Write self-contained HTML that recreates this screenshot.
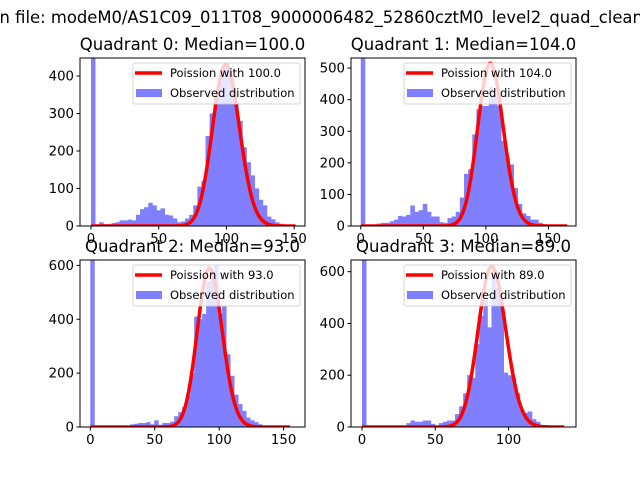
<!DOCTYPE html>
<html><head><meta charset="utf-8"><style>
html,body{margin:0;padding:0;background:#fff}
svg{display:block;font-family:"DejaVu Sans","Liberation Sans",sans-serif}
</style></head><body>
<svg id="fig" width="640" height="480" viewBox="0 0 640 480">
<text x="-5" y="23" font-size="16.4" fill="#000">in file: modeM0/AS1C09_011T08_9000006482_52860cztM0_level2_quad_clean.evt</text>
</svg>
<script>
// ---- data ----
const titles = ["Quadrant 0: Median=100.0","Quadrant 1: Median=104.0","Quadrant 2: Median=93.0","Quadrant 3: Median=89.0"];
const medians = [100, 104, 93, 89];
const histMax = [151, 165, 155, 138];
const poissonPeak = [430, 515, 590, 620];
const q0Counts = [900,2,10,5,5,8,10,15,15,17,15,30,45,50,62,55,42,47,30,28,20,10,12,20,30,55,105,120,240,300,350,380,420,425,390,330,280,210,170,135,100,70,55,25,18,10,6,3,1,1];
const q1Counts = [900,2,2,2,8,10,10,15,20,32,30,35,65,45,50,70,45,30,30,12,10,25,30,45,90,165,180,290,370,380,380,440,410,380,270,215,195,120,70,40,32,20,20,10,6,4,3,2,1,1];
const q2Counts = [900,1,1,2,2,2,3,3,3,5,10,12,15,15,18,10,25,8,15,15,20,40,55,75,120,200,410,400,420,540,550,600,420,450,270,190,120,85,60,35,25,18,10,5,2,1,1,1,1,1];
const q3Counts = [900,1,1,1,1,1,2,2,2,2,5,15,25,20,20,25,25,12,3,15,20,25,25,50,80,130,200,190,320,430,490,385,590,540,480,210,200,190,130,70,55,60,30,20,8,2,2,2,2,2];
const xTicks = [[0,50,100,150],[0,50,100,150],[0,50,100,150],[0,50,100]];
const yTicks = [[0,100,200,300,400],[0,100,200,300,400,500],[0,200,400,600],[0,200,400,600]];
const xLims = [[-8.1,158],[-7.8,172],[-8,166.6],[-7.5,146]];
const yLims = [448, 532, 620, 645];
const counts = [q0Counts, q1Counts, q2Counts, q3Counts];
const boxes = [[80,58,305,226],[351,58,576,226],[80,260,305,427],[351,260,576,427]];

const NS = "http://www.w3.org/2000/svg";
const svg = document.getElementById('fig');
function mk(tag, attrs, parent){const e=document.createElementNS(NS,tag);for(const k in attrs)e.setAttribute(k,attrs[k]);(parent||svg).appendChild(e);return e;}
function logPmf(k, lam){let lf=0;for(let i=2;i<=k;i++)lf+=Math.log(i);return k*Math.log(lam)-lam-lf;}

for(let p=0;p<4;p++){
  const [L,T,R,B]=boxes[p];
  const [x0,x1]=xLims[p]; const y1=yLims[p];
  const sx=v=>L+(v-x0)/(x1-x0)*(R-L);
  const sy=v=>B-v/y1*(B-T);
  const g=mk('g',{});
  
  
  const clipId='clip'+p;
  const cp=mk('clipPath',{id:clipId},g); mk('rect',{x:L,y:T,width:R-L,height:B-T},cp);
  const plot=mk('g',{'clip-path':'url(#'+clipId+')'},g);
  const lam=medians[p]; const peakLog=logPmf(Math.floor(lam),lam);
  let d='';
  for(let k=0;k<=histMax[p];k++){
    const y=poissonPeak[p]*Math.exp(logPmf(k,lam)-peakLog);
    d+=(k?'L':'M')+sx(k).toFixed(2)+','+sy(y).toFixed(2);
  }
  const c=counts[p]; const w=histMax[p]/c.length;
  for(let i=0;i<c.length;i++){
    const b=mk('rect',{x:sx(i*w),y:sy(c[i]),width:sx((i+1)*w)-sx(i*w)+0.4,height:sy(0)-sy(c[i]),fill:'#7f7fff'},plot);
    
    
  }
  const curve=mk('path',{d:d,fill:'none',stroke:'#ff0000','stroke-width':3.5,'stroke-linejoin':'round'},plot);
  
  
  const fr=mk('rect',{x:L,y:T,width:R-L,height:B-T,fill:'none',stroke:'#000','stroke-width':1},g);
  
  
  xTicks[p].forEach(v=>{
    const x=sx(v); mk('line',{x1:x,x2:x,y1:B,y2:B+3.5,stroke:'#000'},g);
    const t=mk('text',{x:x,y:B+17,'font-size':13.3,'text-anchor':'middle'},g); t.textContent=v;
     
  });
  yTicks[p].forEach(v=>{
    const y=sy(v); mk('line',{x1:L-3.5,x2:L,y1:y,y2:y,stroke:'#000'},g);
    const t=mk('text',{x:L-6,y:y+4.5,'font-size':13.3,'text-anchor':'end'},g); t.textContent=v;
     
  });
  const tt=mk('text',{x:(L+R)/2,y:T-8,'font-size':16.5,'text-anchor':'middle'},g); tt.textContent=titles[p];
   
  const lg=mk('g',{},g);
  
  
  const lx=R-172, ly=T+5;
  mk('rect',{x:lx,y:ly,width:167,height:41,rx:2,fill:'#fff','fill-opacity':0.8,stroke:'#ccc','stroke-opacity':0.8},lg);
  mk('line',{x1:lx+2,x2:lx+29,y1:ly+10,y2:ly+10,stroke:'#ff0000','stroke-width':3.5},lg);
  const t1=mk('text',{x:lx+37,y:ly+14,'font-size':11.5},lg); t1.textContent='Poission with '+medians[p].toFixed(1);
   
  mk('rect',{x:lx+3,y:ly+26,width:26,height:8,fill:'#7f7fff'},lg);
  const t2=mk('text',{x:lx+37,y:ly+34,'font-size':11.5},lg); t2.textContent='Observed distribution';
   
}
</script>
</body></html>
